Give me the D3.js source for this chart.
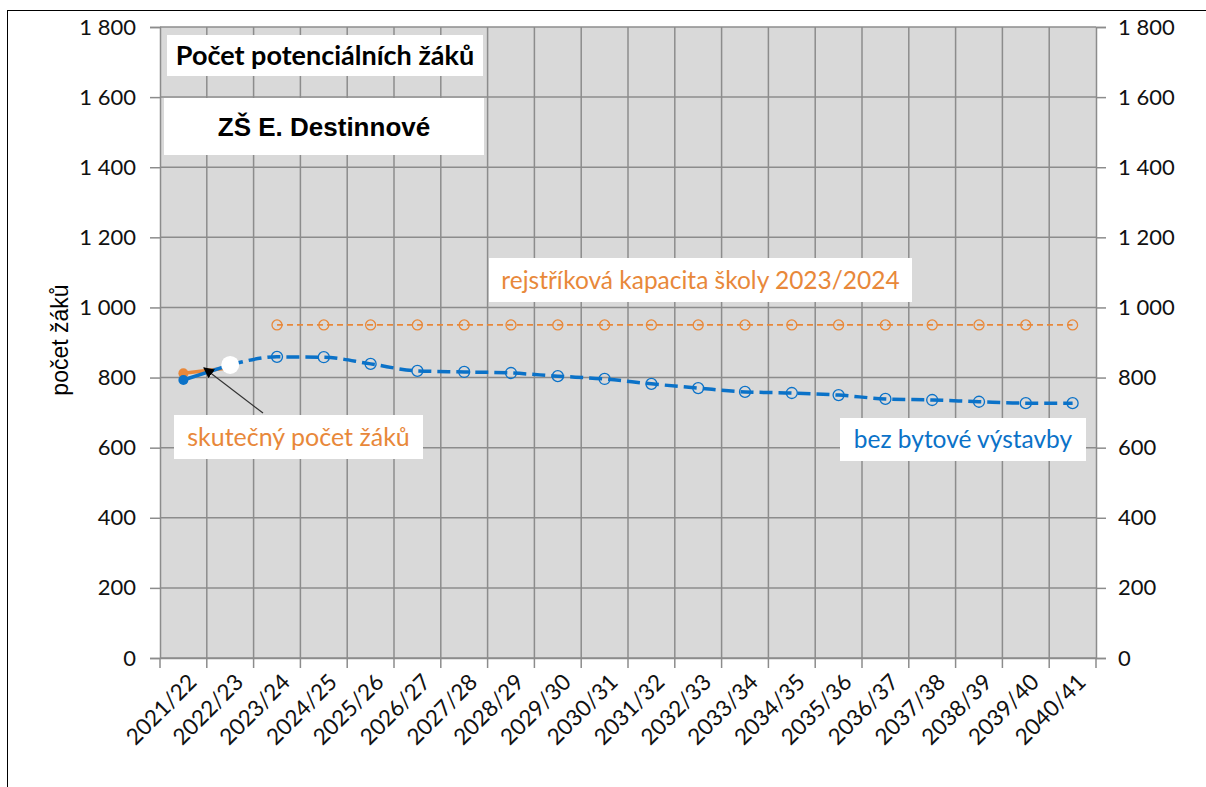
<!DOCTYPE html>
<html>
<head>
<meta charset="utf-8">
<script src="https://cdn.jsdelivr.net/npm/d3@7"></script>
<style>
  body { margin: 0; background: #fff; }
  svg { display: block; }
  .tick text { font-family: Lato, "Open Sans", sans-serif; }
</style>
</head>
<body>
<div id="chart"></div>
<script>
// school years on the x axis
var years = ["2021/22", "2022/23", "2023/24", "2024/25", "2025/26", "2026/27", "2027/28",
    "2028/29", "2029/30", "2030/31", "2031/32", "2032/33", "2033/34", "2034/35",
    "2035/36", "2036/37", "2037/38", "2038/39", "2039/40", "2040/41"];

// actual pupils (orange + blue solid)
var actualOrange = [812, 828];
var actualBlue = [793, 836];

// projection without housing construction, from 2022/23
var projection = [836, 859, 858, 839, 819, 816, 813, 804, 796, 782, 770, 759, 756, 750,
    739, 736, 731, 727, 727];

// registered capacity from 2023/24
var capacity = [950, 950, 950, 950, 950, 950, 950, 950, 950, 950, 950, 950, 950, 950,
    950, 950, 950, 950];

var yTicks = [0, 200, 400, 600, 800, 1000, 1200, 1400, 1600, 1800];

var W = 1206, H = 787;
var pLeft = 160, pRight = 1096, pTop = 27, pBottom = 658;
var orange = "#e8883a", blue = "#0b72c8";

var svg = d3.select("#chart").append("svg").attr("width", W).attr("height", H);

// outer frame
svg.append("rect").attr("x", 7.5).attr("y", 10.5).attr("width", 1300).attr("height", 900)
    .attr("fill", "none").attr("stroke", "#000").attr("stroke-width", 1);

var x = d3.scaleBand().domain(years).range([pLeft, pRight]);
var y = d3.scaleLinear().domain([0, 1800]).range([pBottom, pTop]);
var fmt = function (d) { return d3.format(",")(d).replace(",", " "); };

svg.append("rect").attr("x", pLeft).attr("y", pTop).attr("width", pRight - pLeft).attr("height", pBottom - pTop)
    .attr("fill", "#d9d9d9");

// grid
var grid = svg.append("g").attr("stroke", "#8c8c8c").attr("stroke-width", 1.5);
yTicks.forEach(function (t) {
    grid.append("line").attr("x1", pLeft).attr("x2", pRight).attr("y1", y(t)).attr("y2", y(t));
});
years.forEach(function (yr, i) {
    if (i == 0) return;
    grid.append("line").attr("x1", x(yr)).attr("x2", x(yr)).attr("y1", pTop).attr("y2", pBottom);
});

// axes
var axL = svg.append("g").attr("transform", "translate(" + pLeft + ",0)")
    .call(d3.axisLeft(y).tickValues(yTicks).tickFormat(fmt).tickSize(10).tickPadding(14));
var axR = svg.append("g").attr("transform", "translate(" + pRight + ",0)")
    .call(d3.axisRight(y).tickValues(yTicks).tickFormat(fmt).tickSize(10).tickPadding(12));
var axB = svg.append("g").attr("transform", "translate(0," + pBottom + ")")
    .call(d3.axisBottom(x).tickSize(0).tickFormat(d => d));
// tick marks at band edges
years.concat(["end"]).forEach(function (yr, i) {
    var px = pLeft + i * x.bandwidth();
    axB.append("line").attr("x1", px).attr("x2", px).attr("y1", 0).attr("y2", 10)
        .attr("stroke", "#8c8c8c").attr("stroke-width", 1.5);
});
[axL, axR, axB].forEach(function (a) {
    a.select(".domain").attr("stroke", "#8c8c8c").attr("stroke-width", 1.5);
    a.selectAll(".tick line").attr("stroke", "#8c8c8c").attr("stroke-width", 1.5);
    a.selectAll(".tick text").attr("font-size", 22).attr("fill", "#111");
});
axB.selectAll(".tick text")
    .attr("font-size", 22.5)
    .attr("text-anchor", "end")
    .attr("dy", "0.35em")
    .attr("transform", "translate(9,20) rotate(-45)")
    .attr("y", 0).attr("x", 0);

var cx = function (i) { return x(years[i]) + x.bandwidth() / 2; };

// capacity line
var capLine = d3.line().x((d, i) => cx(i + 2)).y(d => y(d));
svg.append("path").datum(capacity).attr("d", capLine).attr("fill", "none")
    .attr("stroke", orange).attr("stroke-width", 1.8).attr("stroke-dasharray", "6,4");
svg.selectAll(".capdot").data(capacity).enter().append("circle")
    .attr("cx", (d, i) => cx(i + 2)).attr("cy", d => y(d)).attr("r", 5)
    .attr("fill", "none").attr("stroke", orange).attr("stroke-width", 1.3);

// projection line
var projLine = d3.line().x((d, i) => cx(i + 1)).y(d => y(d)).curve(d3.curveMonotoneX);
svg.append("path").datum(projection).attr("d", projLine).attr("fill", "none")
    .attr("stroke", blue).attr("stroke-width", 3.5).attr("stroke-dasharray", "13,6");
svg.selectAll(".projdot").data(projection.slice(1)).enter().append("circle")
    .attr("cx", (d, i) => cx(i + 2)).attr("cy", d => y(d)).attr("r", 5.5)
    .attr("fill", "none").attr("stroke", blue).attr("stroke-width", 1.3);

// actual lines
var actLine = d3.line().x((d, i) => cx(i)).y(d => y(d));
svg.append("path").datum(actualOrange).attr("d", actLine).attr("fill", "none")
    .attr("stroke", orange).attr("stroke-width", 3.5);
svg.append("circle").attr("cx", cx(0)).attr("cy", y(actualOrange[0])).attr("r", 5).attr("fill", orange);
svg.append("path").datum(actualBlue).attr("d", actLine).attr("fill", "none")
    .attr("stroke", blue).attr("stroke-width", 3.5);
svg.append("circle").attr("cx", cx(0)).attr("cy", y(actualBlue[0])).attr("r", 5).attr("fill", blue);
svg.append("circle").attr("cx", cx(1)).attr("cy", y(projection[0])).attr("r", 9).attr("fill", "#fff");

// boxes with text
function box(x0, y0, w, h, txt, color, size, family, weight) {
    svg.append("rect").attr("x", x0).attr("y", y0).attr("width", w).attr("height", h).attr("fill", "#fff");
    svg.append("text").attr("x", x0 + w / 2).attr("y", y0 + h / 2).attr("dy", "0.35em")
        .attr("text-anchor", "middle").attr("fill", color).attr("font-size", size)
        .attr("font-family", family).attr("font-weight", weight).text(txt);
}
box(167, 35, 316, 41, "Počet potenciálních žáků", "#000", 27, "Lato, sans-serif", "bold");
box(164, 98, 320, 57, "ZŠ E. Destinnové", "#000", 26, "'Liberation Sans', Arial, sans-serif", "bold");
box(489, 258, 423, 44, "rejstříková  kapacita školy 2023/2024", orange, 24.5, "Lato, sans-serif", "normal");
box(174, 415, 249, 44, "skutečný počet žáků", orange, 25, "Lato, sans-serif", "normal");
box(840, 418, 246, 43, "bez bytové výstavby", blue, 24.5, "Lato, sans-serif", "normal");

// arrow
svg.append("defs").append("marker").attr("id", "arr").attr("viewBox", "0 0 10 10")
    .attr("refX", 9).attr("refY", 5).attr("markerWidth", 9).attr("markerHeight", 9)
    .attr("orient", "auto").append("path").attr("d", "M0,0 L10,5 L0,10 z").attr("fill", "#000");
svg.append("line").attr("x1", 263).attr("y1", 413).attr("x2", 204).attr("y2", 368)
    .attr("stroke", "#333").attr("stroke-width", 1.2).attr("marker-end", "url(#arr)");

// y axis title
svg.append("text").attr("transform", "translate(68,340) rotate(-90)")
    .attr("text-anchor", "middle").attr("font-size", 23)
    .attr("font-family", "'Liberation Sans', Arial, sans-serif").text("počet žáků");
</script>
</body>
</html>
